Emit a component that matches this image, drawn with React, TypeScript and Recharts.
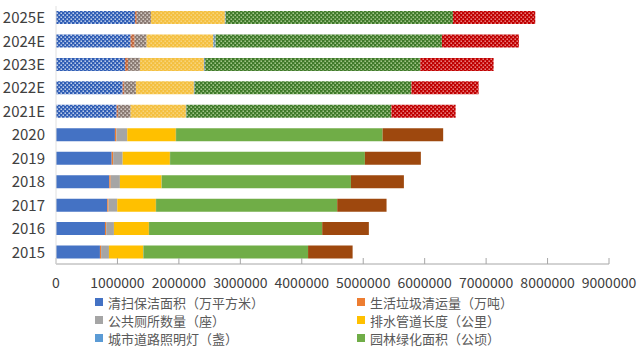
import { BarChart, Bar, XAxis, YAxis, Cell } from "recharts";

const years = ["2015", "2016", "2017", "2018", "2019", "2020", "2021E", "2022E", "2023E", "2024E", "2025E"];

const cleanArea = [715000, 797000, 834000, 867000, 906000, 959000, 987000, 1085000, 1122000, 1215000, 1285000];
const garbage = [19000, 20000, 21000, 23000, 24000, 24000, 25000, 26000, 50000, 65000, 30000];
const toilets = [128000, 126000, 142000, 150000, 155000, 177000, 203000, 190000, 194000, 195000, 230000];
const drainage = [558000, 569000, 629000, 679000, 769000, 791000, 899000, 943000, 1041000, 1083000, 1203000];
const lights = [2400, 2600, 2700, 2900, 3000, 3200, 10000, 15000, 20000, 40000, 15000];
const greenArea = [2680000, 2818000, 2948000, 3078000, 3170000, 3361000, 3334000, 3525000, 3503000, 3683000, 3697000];
const roadArea = [725000, 759000, 803000, 862000, 911000, 986000, 1046000, 1094000, 1192000, 1252000, 1340000];

const xTicks = [0, 1000000, 2000000, 3000000, 4000000, 5000000, 6000000, 7000000, 8000000, 9000000];

const FONT = '"Noto Sans CJK SC", "Noto Sans", sans-serif';

// last series has no visible legend entry (cut off in the original)
const series = [
  { key: "clean", name: "清扫保洁面积（万平方米）", color: "#4472C4", dark: "#2F5DB5", dot: "#DCE6F7", values: cleanArea, legend: true },
  { key: "garbage", name: "生活垃圾清运量（万吨）", color: "#ED7D31", dark: "#C0643A", dot: "#F5C8A8", values: garbage, legend: true },
  { key: "toilets", name: "公共厕所数量（座）", color: "#A5A5A5", dark: "#8A7A72", dot: "#E6DDD8", values: toilets, legend: true },
  { key: "drainage", name: "排水管道长度（公里）", color: "#FFC000", dark: "#F4C040", dot: "#FAD98A", values: drainage, legend: true },
  { key: "lights", name: "城市道路照明灯（盏）", color: "#5B9BD5", dark: "#6A8FA8", dot: "#D6E4EE", values: lights, legend: true },
  { key: "green", name: "园林绿化面积（公顷）", color: "#70AD47", dark: "#3F7A2A", dot: "#B9D7A0", values: greenArea, legend: true },
  { key: "road", name: "城市道路面积（万平方米）", color: "#9E480E", dark: "#C00000", dot: "#F29A9A", values: roadArea, legend: false },
];

const data = years.map((year, i) => {
  const row: Record<string, string | number> = { year };
  series.forEach(s => { row[s.key] = s.values[i]; });
  return row;
});

export default function App() {
  const legendItems = series.filter(s => s.legend);

  return (
    <div style={{ position: "absolute", left: 0, top: 0, width: 640, height: 352, background: "#fff", fontFamily: FONT }}>
      <BarChart
        width={640}
        height={352}
        data={data}
        layout="vertical"
        margin={{ top: 6, right: 31, bottom: 58, left: 0 }}
        barSize={13}
      >
        <defs>
          {series.map(s => (
            <pattern key={s.key} id={`dots-${s.key}`} width={4} height={4} patternUnits="userSpaceOnUse">
              <rect width={4} height={4} fill={s.dark} />
              <rect x={0.5} y={0.5} width={1.4} height={1.4} fill={s.dot} />
              <rect x={2.5} y={2.5} width={1.4} height={1.4} fill={s.dot} />
            </pattern>
          ))}
        </defs>
        <XAxis
          type="number"
          domain={[0, 9000000]}
          ticks={xTicks}
          interval={0}
          tickSize={-6}
          tickMargin={20}
          axisLine={{ stroke: "#a6a6a6" }}
          tickLine={{ stroke: "#a6a6a6" }}
          tick={{ fill: "#404040", fontSize: 14, fontFamily: FONT }}
        />
        <YAxis
          type="category"
          dataKey="year"
          reversed
          width={56}
          tickLine={false}
          tickMargin={5}
          axisLine={{ stroke: "#e0e0e0" }}
          tick={{ fill: "#404040", fontSize: 15, fontFamily: FONT }}
        />
        {series.map(s => (
          <Bar key={s.key} dataKey={s.key} name={s.name} stackId="a" fill={s.color} isAnimationActive={false}>
            {years.map((y, i) => (
              <Cell key={`c-${i}`} fill={y.endsWith("E") ? `url(#dots-${s.key})` : s.color} />
            ))}
          </Bar>
        ))}
      </BarChart>

      <div
        style={{
          position: "absolute",
          left: 95,
          top: 293,
          display: "grid",
          gridTemplateColumns: "262px 220px",
          rowGap: 0,
          fontSize: 13,
          color: "#595959",
        }}
      >
        {legendItems.map(s => (
          <div key={s.key} style={{ display: "flex", alignItems: "center", height: 18, whiteSpace: "nowrap" }}>
            <span style={{ width: 8, height: 8, background: s.color, marginRight: 5, display: "inline-block" }} />
            <span>{s.name}</span>
          </div>
        ))}
      </div>
    </div>
  );
}
